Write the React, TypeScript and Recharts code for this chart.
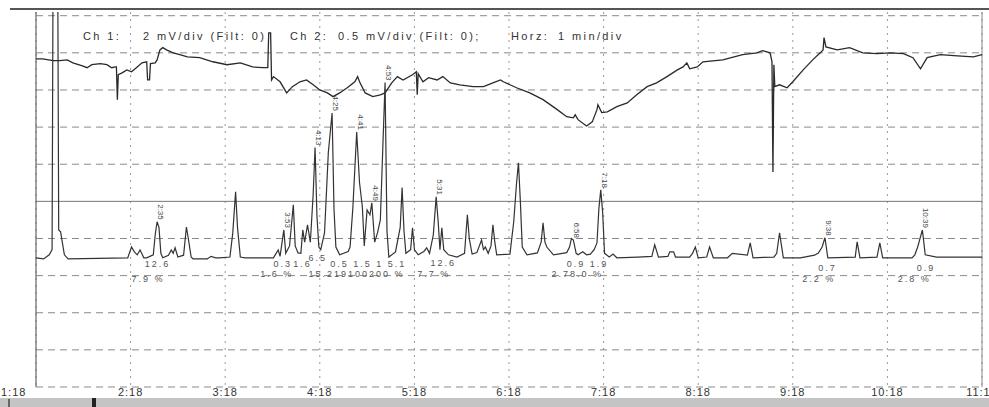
import {
  CartesianGrid,
  Line,
  LineChart,
  ReferenceDot,
  ReferenceLine,
  XAxis,
  YAxis,
} from "recharts";

// time in minutes, signal in screen divisions (10 div full scale)
const tickTimes = [1.3, 2.3, 3.3, 4.3, 5.3, 6.3, 7.3, 8.3, 9.3, 10.3, 11.3];
const tickLabels = ["1:18", "2:18", "3:18", "4:18", "5:18", "6:18", "7:18", "8:18", "9:18", "10:18", "11:18"];
const divisions = [0, 1, 2, 3, 4, 5, 6, 7, 8, 9, 10];

const ch1Trace: [number, number][] = [
  [1.3, 8.84], [1.37, 8.84], [1.48, 8.79], [1.55, 8.79], [1.63, 8.81], [1.69, 8.73], [1.79, 8.65],
  [1.84, 8.6], [1.89, 8.68], [1.98, 8.71], [2.05, 8.68], [2.1, 8.6], [2.14, 8.62], [2.15, 8.62],
  [2.16, 7.74], [2.17, 8.41], [2.21, 8.46], [2.26, 8.54], [2.31, 8.49], [2.37, 8.62], [2.42, 8.73],
  [2.47, 8.76], [2.48, 8.27], [2.5, 8.27], [2.51, 8.71], [2.56, 8.73], [2.58, 8.81], [2.61, 9.08],
  [2.64, 9.14], [2.68, 9.08], [2.75, 9.0], [2.82, 8.95], [2.9, 8.89], [3.03, 8.87], [3.17, 8.76],
  [3.32, 8.68], [3.46, 8.73], [3.59, 8.62], [3.7, 8.6], [3.75, 8.6], [3.76, 9.54], [3.78, 9.54],
  [3.79, 8.27], [3.81, 8.36], [3.88, 8.22], [3.95, 7.92], [4.01, 8.09], [4.09, 8.22], [4.16, 8.27],
  [4.23, 8.14], [4.3, 8.0], [4.38, 7.92], [4.44, 7.82], [4.51, 7.92], [4.59, 8.06], [4.67, 8.22],
  [4.7, 8.36], [4.72, 8.22], [4.78, 7.92], [4.86, 7.82], [4.94, 7.87], [4.99, 7.92], [5.06, 8.19],
  [5.12, 8.36], [5.18, 8.27], [5.28, 8.41], [5.32, 8.49], [5.33, 7.87], [5.34, 8.44], [5.39, 8.22],
  [5.45, 8.33], [5.54, 8.27], [5.6, 8.36], [5.68, 8.19], [5.78, 8.14], [5.92, 8.09], [6.03, 8.09],
  [6.13, 8.19], [6.21, 8.27], [6.24, 8.22], [6.38, 8.06], [6.52, 7.92], [6.66, 7.74], [6.81, 7.47],
  [6.91, 7.28], [6.98, 7.25], [7.0, 7.33], [7.03, 7.2], [7.12, 7.03], [7.18, 7.14], [7.23, 7.47],
  [7.24, 7.6], [7.28, 7.39], [7.34, 7.41], [7.44, 7.55], [7.55, 7.65], [7.65, 7.87], [7.76, 8.09],
  [7.86, 8.19], [7.97, 8.36], [8.08, 8.54], [8.14, 8.62], [8.18, 8.73], [8.21, 8.57], [8.29, 8.62],
  [8.35, 8.76], [8.56, 8.81], [8.77, 8.95], [8.92, 9.0], [8.98, 9.06], [9.06, 9.0], [9.08, 8.76],
  [9.09, 5.79], [9.1, 8.68], [9.11, 8.09], [9.16, 8.14], [9.24, 8.06], [9.3, 8.22], [9.41, 8.54],
  [9.51, 8.81], [9.59, 9.0], [9.62, 9.08], [9.63, 9.41], [9.65, 9.16], [9.77, 9.08], [9.9, 9.14],
  [10.04, 9.0], [10.19, 8.98], [10.33, 9.0], [10.47, 8.98], [10.57, 8.87], [10.65, 8.57], [10.72, 8.87],
  [10.86, 8.95], [11.04, 8.92], [11.21, 8.89], [11.3, 8.95],
];

const ch2Trace: [number, number][] = [
  [1.3, 3.48], [1.38, 3.45], [1.44, 3.56], [1.47, 3.7], [1.48, 11], [1.53, 11], [1.54, 4.23],
  [1.56, 4.18], [1.6, 3.56], [1.64, 3.45],
  [2.27, 3.48], [2.31, 3.77], [2.34, 3.64], [2.37, 3.56], [2.4, 3.69], [2.44, 3.48], [2.47, 3.48],
  [2.54, 3.56], [2.56, 4.1], [2.58, 4.45], [2.6, 4.3], [2.62, 3.6], [2.64, 3.48],
  [2.7, 3.55], [2.73, 3.69], [2.75, 3.6], [2.77, 3.75], [2.8, 3.5], [2.86, 3.55], [2.89, 4.31],
  [2.91, 4.0], [2.94, 3.5], [2.96, 3.45], [3.11, 3.45], [3.15, 3.52], [3.2, 3.48], [3.24, 3.48],
  [3.35, 3.5], [3.38, 4.15], [3.41, 5.26], [3.43, 4.3], [3.46, 3.5], [3.51, 3.48],
  [3.81, 3.48], [3.86, 3.69], [3.88, 3.52], [3.92, 4.23], [3.94, 3.6], [3.98, 3.8], [4.02, 4.91],
  [4.04, 3.8], [4.07, 3.61], [4.1, 3.6], [4.12, 4.23], [4.14, 3.9], [4.17, 4.37], [4.2, 3.9],
  [4.23, 5.2], [4.25, 6.45], [4.27, 4.6], [4.29, 3.77], [4.31, 3.7], [4.35, 4.15], [4.39, 6.31],
  [4.43, 7.38], [4.45, 4.8], [4.47, 3.77], [4.51, 3.56], [4.6, 3.65], [4.62, 3.77], [4.65, 4.85],
  [4.69, 6.87], [4.72, 5.5], [4.75, 4.85], [4.77, 3.8], [4.8, 4.77], [4.83, 4.64], [4.85, 4.96],
  [4.88, 3.9], [4.91, 4.15], [4.94, 4.5], [4.97, 6.74], [4.99, 8.2], [5.01, 4.2], [5.03, 3.5],
  [5.1, 3.64], [5.15, 4.3], [5.17, 5.37], [5.19, 4.2], [5.21, 3.6], [5.26, 3.7], [5.28, 4.29],
  [5.3, 3.7], [5.34, 3.56], [5.4, 3.65], [5.43, 3.75], [5.46, 3.6], [5.5, 4.1], [5.53, 5.12],
  [5.55, 4.5], [5.57, 3.7], [5.59, 4.29], [5.61, 3.7], [5.66, 3.56], [5.75, 3.5], [5.83, 3.6],
  [5.86, 4.64], [5.88, 4.0], [5.91, 3.58], [5.96, 3.62], [6.01, 3.96], [6.03, 3.7], [6.05, 3.77],
  [6.08, 3.6], [6.11, 3.8], [6.13, 4.37], [6.15, 3.9], [6.17, 3.56], [6.31, 3.58], [6.35, 4.45],
  [6.38, 5.5], [6.4, 6.04], [6.42, 5.0], [6.44, 3.77], [6.49, 3.56], [6.6, 3.61], [6.64, 3.9],
  [6.66, 4.42], [6.68, 3.9], [6.7, 3.77], [6.77, 3.56], [6.91, 3.62], [6.94, 3.77], [6.96, 4.0],
  [6.98, 3.96], [7.01, 3.6], [7.03, 3.56], [7.08, 3.64], [7.12, 3.56], [7.16, 3.58], [7.2, 3.7],
  [7.23, 3.88], [7.25, 4.8], [7.27, 5.31], [7.29, 4.7], [7.31, 3.6], [7.36, 3.5], [7.4, 3.58],
  [7.44, 3.48], [7.66, 3.5], [7.81, 3.52], [7.84, 3.83], [7.88, 3.5], [7.98, 3.52], [8.0, 3.64],
  [8.04, 3.64], [8.06, 3.5], [8.21, 3.5], [8.24, 3.6], [8.27, 3.77], [8.3, 3.48], [8.39, 3.5],
  [8.42, 3.77], [8.46, 3.48], [8.61, 3.48], [8.66, 3.6], [8.82, 3.55], [8.85, 3.88], [8.88, 3.48],
  [9.1, 3.5], [9.13, 3.6], [9.16, 4.15], [9.2, 3.48], [9.38, 3.48], [9.53, 3.55], [9.57, 3.61],
  [9.61, 3.77], [9.64, 4.02], [9.67, 3.48], [9.96, 3.5], [9.98, 3.91], [10.01, 3.48], [10.19, 3.5],
  [10.22, 3.88], [10.25, 3.48], [10.56, 3.48], [10.59, 3.56], [10.62, 3.77], [10.67, 4.23],
  [10.7, 3.56], [10.82, 3.5], [11.3, 3.5],
];

// retention time labels: [time, apex, text]
const peakLabels: [number, number, string][] = [
  [2.58, 4.45, "2:35"], [3.92, 4.23, "3:53"], [4.25, 6.45, "4:13"], [4.43, 7.38, "4:25"],
  [4.69, 6.87, "4:41"], [4.85, 4.96, "4:49"], [4.99, 8.2, "4:53"], [5.53, 5.12, "5:31"],
  [6.98, 3.96, "6:58"], [7.27, 5.31, "7:18"], [9.64, 4.02, "9:38"], [10.67, 4.23, "10:39"],
];

// area / width figures under the baseline: [time, level, text]
const areaLabels: [number, number, string][] = [
  [2.45, 3.32, "12.6"], [2.31, 2.91, "7.9 %"], [3.81, 3.32, "0.3"], [4.02, 3.32, "1.6"],
  [4.18, 3.47, "6.5"], [4.41, 3.32, "0.5 1.5 1 5.1"], [3.67, 3.05, "1.6 %"],
  [4.18, 3.05, "15.219100200 %"], [5.47, 3.34, "12.6"], [5.33, 3.05, "7.7 %"],
  [6.91, 3.32, "0.9 1.9"], [6.75, 3.05, "2.78.0 %"], [9.57, 3.21, "0.7"], [9.4, 2.91, "2.2 %"],
  [10.61, 3.21, "0.9"], [10.41, 2.91, "2.8 %"],
];

const font = "'Liberation Sans', Arial, sans-serif";
const toPoints = (rows: [number, number][]) => rows.map(([t, v]) => ({ t, v }));

function TimeTick(props: any) {
  const { x, y, index } = props;
  return (
    <text
      x={index === 0 ? x - 35 : x}
      y={y}
      dy="0.8em"
      textAnchor={index === 0 ? "start" : "middle"}
      fontSize={11}
      letterSpacing={1}
      fontFamily={font}
      fill="#333"
    >
      {tickLabels[index]}
    </text>
  );
}

const peakText = (text: string) => (props: any) => {
  const { x, y } = props.viewBox;
  return (
    <text
      x={x + 1}
      y={y - 2}
      transform={`rotate(90 ${x + 1} ${y - 2})`}
      textAnchor="end"
      fontSize={8}
      fontFamily={font}
      fill="#444"
    >
      {text}
    </text>
  );
};

const areaText = (text: string) => (props: any) => {
  const { x, y } = props.viewBox;
  return (
    <text x={x} y={y} dy="0.35em" fontSize={9} letterSpacing={2} fontFamily={font} fill="#555">
      {text}
    </text>
  );
};

const header: React.CSSProperties = {
  position: "absolute",
  top: 30,
  fontFamily: font,
  fontSize: 11,
  letterSpacing: 2.4,
  color: "#333",
  whiteSpace: "pre",
};

export default function App() {
  return (
    <div
      style={{
        position: "absolute",
        left: 0,
        top: 0,
        width: 989,
        height: 407,
        background: "#fff",
        overflow: "hidden",
      }}
    >
      <LineChart width={989} height={407} margin={{ top: 12, right: 7, bottom: 0, left: 36 }}>
        <CartesianGrid horizontal={false} stroke="#999" strokeDasharray="2 5" />
        <XAxis
          dataKey="t"
          type="number"
          domain={[1.3, 11.3]}
          ticks={tickTimes}
          interval={0}
          allowDataOverflow
          height={20}
          tickSize={0}
          tickMargin={0}
          axisLine={false}
          tickLine={false}
          tick={<TimeTick />}
        />
        <YAxis
          type="number"
          domain={[0, 10.1]}
          ticks={divisions}
          allowDataOverflow
          width={0}
          tick={false}
          axisLine={false}
          tickLine={false}
        />
        {divisions.map((d) =>
          d === 5 ? (
            <ReferenceLine key={"d" + d} y={d} stroke="#777" strokeWidth={1} />
          ) : (
            <ReferenceLine key={"d" + d} y={d} stroke="#8a8a8a" strokeDasharray="7 5" />
          )
        )}
        <ReferenceLine x={1.3} stroke="#666" strokeWidth={1.2} />
        <ReferenceLine x={11.3} stroke="#888" strokeWidth={1} />
        <Line
          data={toPoints(ch1Trace)}
          dataKey="v"
          type="linear"
          stroke="#2a2a2a"
          strokeWidth={1.3}
          dot={false}
          isAnimationActive={false}
        />
        <Line
          data={toPoints(ch2Trace)}
          dataKey="v"
          type="linear"
          stroke="#333"
          strokeWidth={1.2}
          dot={false}
          isAnimationActive={false}
        />
        {peakLabels.map(([t, v, text]) => (
          <ReferenceDot key={"p" + text} x={t} y={v} r={0} fill="none" stroke="none" label={peakText(text)} />
        ))}
        {areaLabels.map(([t, v, text], i) => (
          <ReferenceDot key={"a" + i} x={t} y={v} r={0} fill="none" stroke="none" label={areaText(text)} />
        ))}
      </LineChart>
      <div style={{ position: "absolute", left: 10, top: 8, width: 979, height: 2, background: "#555" }} />
      <span style={{ ...header, left: 83 }}>Ch 1:</span>
      <span style={{ ...header, left: 143 }}>2 mV/div (Filt: 0)</span>
      <span style={{ ...header, left: 290 }}>Ch 2:</span>
      <span style={{ ...header, left: 338 }}>0.5 mV/div (Filt: 0);</span>
      <span style={{ ...header, left: 511 }}>Horz:</span>
      <span style={{ ...header, left: 558 }}>1 min/div</span>
      <div style={{ position: "absolute", left: 0, top: 398, width: 989, height: 9, background: "#c4c4c4" }} />
      <div style={{ position: "absolute", left: 8, top: 399, width: 2, height: 8, background: "#666" }} />
      <div style={{ position: "absolute", left: 92, top: 398, width: 4, height: 9, background: "#222" }} />
    </div>
  );
}
